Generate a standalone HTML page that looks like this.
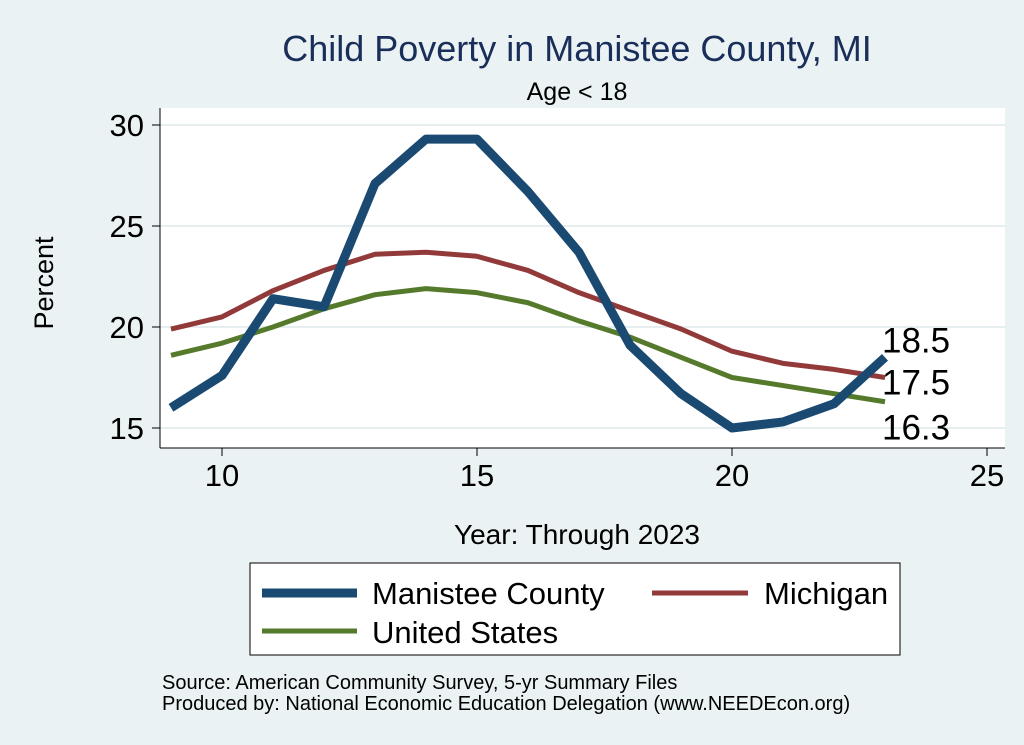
<!DOCTYPE html>
<html><head><meta charset="utf-8"><style>
body{margin:0;background:#eaf2f3;font-family:"Liberation Sans",sans-serif}
svg{display:block}
</style></head><body>
<svg width="1024" height="745">
<rect x="0" y="0" width="1024" height="745" fill="#eaf2f3"/>
<rect x="160" y="108" width="845" height="340" fill="#fff"/>
<text x="577" y="61" font-size="36" fill="#1a2e5a" text-anchor="middle">Child Poverty in Manistee County, MI</text>
<text x="577" y="100" font-size="25" text-anchor="middle">Age &lt; 18</text>
<g id="grid"></g><g id="axes"></g><g id="series"></g>
<text x="53" y="283" font-size="27" text-anchor="middle" transform="rotate(-90 53 283)">Percent</text>
<text x="577" y="544" font-size="28" text-anchor="middle">Year: Through 2023</text>
<g>
<rect x="250" y="563" width="650" height="92" fill="#fff" stroke="#000" stroke-width="1"/>
<line x1="262" y1="593" x2="357" y2="593" stroke="#1a4a72" stroke-width="9"/>
<text x="372" y="604" font-size="31">Manistee County</text>
<line x1="652" y1="593" x2="748" y2="593" stroke="#923a3a" stroke-width="5"/>
<text x="764" y="604" font-size="31">Michigan</text>
<line x1="262" y1="631" x2="357" y2="631" stroke="#567a2c" stroke-width="5"/>
<text x="372" y="643" font-size="31">United States</text>
</g>
<text x="162" y="689" font-size="20">Source: American Community Survey, 5-yr Summary Files</text>
<text x="162" y="710" font-size="20">Produced by: National Economic Education Delegation (www.NEEDEcon.org)</text>
</svg>
<script>
const years=[9,10,11,12,13,14,15,16,17,18,19,20,21,22,23];
const manistee=[16.0,17.6,21.4,21.0,27.1,29.3,29.3,26.7,23.7,19.1,16.7,15.0,15.3,16.2,18.5];
const michigan=[19.9,20.5,21.8,22.8,23.6,23.7,23.5,22.8,21.7,20.8,19.9,18.8,18.2,17.9,17.5];
const usa=[18.6,19.2,20.0,20.9,21.6,21.9,21.7,21.2,20.3,19.5,18.5,17.5,17.1,16.7,16.3];
const xTicks=[10,15,20,25];
const yTicks=[15,20,25,30];
const endLabels=["18.5","17.5","16.3"];
const NS="http://www.w3.org/2000/svg";
const X=v=>222+(v-10)*51, Y=v=>428-(v-15)*20.2;
function mk(t,a,p){const e=document.createElementNS(NS,t);for(const k in a)e.setAttribute(k,a[k]);p.appendChild(e);return e;}
const grid=document.getElementById('grid'),axes=document.getElementById('axes'),ser=document.getElementById('series');
yTicks.forEach(t=>{
 const g=mk('line',{x1:160,x2:1005,y1:Y(t),y2:Y(t),stroke:'#e6eef0','stroke-width':2},grid);
 
 
 const k=mk('line',{x1:152,x2:160,y1:Y(t),y2:Y(t),stroke:'#000'},axes);
 
 
 const l=mk('text',{x:144,y:Y(t)+11,'font-size':31,'text-anchor':'end'},axes);l.textContent=t;
 
 
});
xTicks.forEach(t=>{
 const k=mk('line',{x1:X(t),x2:X(t),y1:448,y2:456,stroke:'#000'},axes);
 
 
 const l=mk('text',{x:X(t),y:486,'font-size':31,'text-anchor':'middle'},axes);l.textContent=t;
 
 
});
const a1=mk('line',{x1:160,x2:160,y1:108,y2:448,stroke:'#000'},axes);


const a2=mk('line',{x1:160,x2:1005,y1:448,y2:448,stroke:'#000'},axes);


function line(vals,col,w,name){
 const p=mk('polyline',{points:vals.map((v,i)=>X(years[i])+','+Y(v)).join(' '),fill:'none',stroke:col,'stroke-width':w,'stroke-linejoin':'round'},ser);
 
 
}
line(usa,'#567a2c',5,'us-line');
line(michigan,'#923a3a',5,'michigan-line');
line(manistee,'#1a4a72',9,'manistee-line');
const last=years.length-1;
const lx=X(years[last])-3;
[[manistee[last],endLabels[0],-5],[michigan[last],endLabels[1],17],[usa[last],endLabels[2],38]].forEach(([v,s,dy])=>{
 const t=mk('text',{x:lx,y:Y(v)+dy,'font-size':35},ser);t.textContent=s;
 
 
});
</script>
</body></html>
